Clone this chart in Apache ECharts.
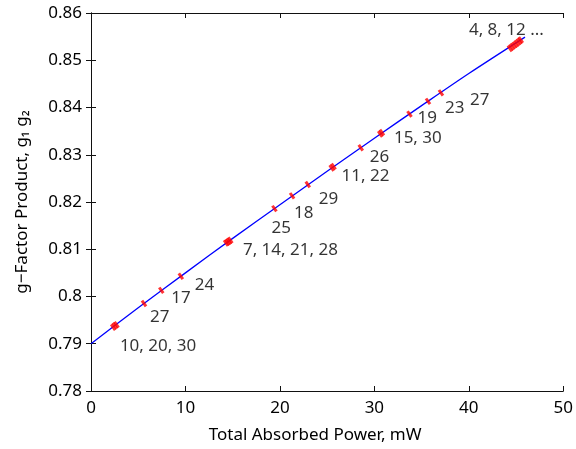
<!DOCTYPE html>
<html>
<head>
<meta charset="utf-8">
<script src="https://cdn.jsdelivr.net/npm/echarts@6/dist/echarts.min.js"></script>
<style>
  html, body { margin: 0; padding: 0; background: #fff; }
  #chart { width: 576px; height: 449px; }
</style>
</head>
<body>
<div id="chart"></div>
<script>
// measured points (total absorbed power, mW -> g1*g2)
const power = [2.35, 2.53, 2.7, 5.61, 7.44, 9.51, 14.3, 14.45, 14.6, 14.75, 19.42, 21.29, 22.95,
  25.48, 25.68, 28.56, 30.62, 30.8, 33.72, 35.68, 37.05, 44.35, 44.55, 44.75, 44.95, 45.15, 45.35, 45.5];
const gProduct = [0.7935, 0.7938, 0.7940, 0.7985, 0.8013, 0.8043, 0.8113, 0.8115, 0.8117, 0.8119, 0.8186, 0.8213, 0.8237,
  0.8272, 0.8275, 0.8315, 0.8344, 0.8347, 0.8386, 0.8413, 0.8431, 0.8525, 0.8528, 0.8531, 0.8534, 0.8537, 0.8540, 0.8543];
// run numbers written next to the points ('' = no label)
const runLabels = ['', '10, 20, 30', '', '27', '17', '24', '', '', '7, 14, 21, 28', '', '25', '18', '29',
  '', '11, 22', '26', '', '15, 30', '19', '23', '27', '4, 8, 12 ...', '', '', '', '', '', ''];

// fitted curve
const fitX = [0, 5, 10, 15, 20, 25, 30, 35, 40, 45.95];
const fitY = [0.7900, 0.7976, 0.8050, 0.8123, 0.8194, 0.8265, 0.8335, 0.8404, 0.8472, 0.8549];

const xTicks = { min: 0, max: 50, interval: 10 };
const yTicks = { min: 0.78, max: 0.86, interval: 0.01 };

// label offsets in px (left edge / vertical centre relative to the point)
const labelOffsets = {
  1: [5, 20], 3: [6, 14], 4: [10, 8], 5: [14, 9], 8: [14, 9], 10: [-3, 20], 11: [2, 17], 12: [11, 15],
  14: [8, 10], 15: [9, 9], 17: [12, 6], 18: [8, 4], 19: [17, 7], 20: [29, 7], 21: [-41, -18]
};

const font = 'Noto Sans';
const textColor = '#000';
const axisColor = '#111';

const chart = echarts.init(document.getElementById('chart'));

const pts = power.map((x, i) => {
  const item = { value: [x, gProduct[i]] };
  if (runLabels[i]) {
    item.label = {
      show: true,
      formatter: runLabels[i],
      position: 'inside',
      align: 'left',
      verticalAlign: 'middle',
      offset: labelOffsets[i],
      color: textColor,
      fontSize: 17,
      fontFamily: font
    };
  }
  return item;
});

const baseTick = { show: true, inside: true, length: 5, lineStyle: { color: axisColor } };
const baseLine = { show: true, lineStyle: { color: axisColor, width: 1 } };

chart.setOption({
  animation: false,
  backgroundColor: '#fff',
  grid: { left: 91, right: 10, top: 13, bottom: 57 },
  xAxis: [
    {
      type: 'value', min: xTicks.min, max: xTicks.max, interval: xTicks.interval,
      position: 'bottom',
      name: 'Total Absorbed Power, mW',
      nameLocation: 'middle',
      nameGap: 36,
      nameTextStyle: { fontSize: 17, fontFamily: font, color: textColor, padding: [0, 24, 0, 0] },
      axisLine: baseLine, axisTick: baseTick,
      axisLabel: { fontSize: 17, fontFamily: font, color: textColor, margin: 9 },
      splitLine: { show: false }
    },
    {
      type: 'value', min: xTicks.min, max: xTicks.max, interval: xTicks.interval,
      position: 'top',
      axisLine: baseLine, axisTick: baseTick,
      axisLabel: { show: false }, splitLine: { show: false }
    }
  ],
  yAxis: [
    {
      type: 'value', min: yTicks.min, max: yTicks.max, interval: yTicks.interval,
      position: 'left',
      name: 'g\u2212Factor Product, g\u2081 g\u2082',
      nameLocation: 'middle',
      nameGap: 60,
      nameTextStyle: { fontSize: 17, fontFamily: font, color: textColor },
      axisLine: baseLine, axisTick: baseTick,
      axisLabel: { fontSize: 17, fontFamily: font, color: textColor, margin: 9 },
      splitLine: { show: false }
    },
    {
      type: 'value', min: yTicks.min, max: yTicks.max, interval: yTicks.interval,
      position: 'right',
      axisLine: baseLine, axisTick: baseTick,
      axisLabel: { show: false }, splitLine: { show: false }
    }
  ],
  series: [
    {
      type: 'line',
      data: fitX.map((x, i) => [x, fitY[i]]),
      smooth: 0.3,
      showSymbol: false,
      lineStyle: { color: '#0000ff', width: 1.3 },
      z: 2
    },
    {
      type: 'scatter',
      data: pts,
      symbol: 'rect',
      symbolSize: [3, 7],
      symbolRotate: 35,
      itemStyle: { color: '#ff0000' },
      z: 3
    }
  ]
});
</script>
</body>
</html>
